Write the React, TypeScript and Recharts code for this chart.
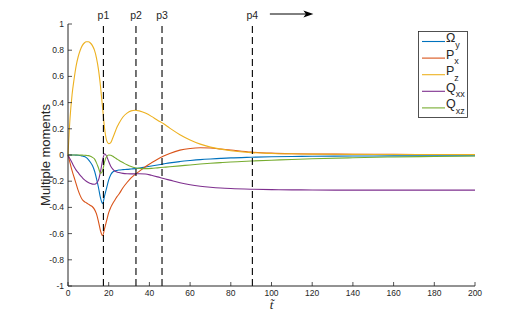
import React from "react";
import {
  LineChart,
  Line,
  XAxis,
  YAxis,
  ReferenceLine,
  Legend,
} from "recharts";

// time samples (denser around the early transients)
const T = [
  0, 1, 2, 3, 4, 5, 6, 7, 8, 9, 10, 11, 12, 13, 14, 15, 16, 17, 18, 19, 20, 21,
  22, 23, 24, 25, 27, 29, 31, 33, 35, 38, 41, 44, 47, 50, 55, 60, 65, 70, 75,
  80, 90, 100, 110, 120, 140, 160, 180, 200,
];

const OMEGA_Y = [
  0, 0, 0, 0, -0.001, -0.002, -0.004, -0.008, -0.012, -0.02, -0.035, -0.055,
  -0.08, -0.12, -0.18, -0.25, -0.33, -0.371, -0.31, -0.25, -0.19, -0.15, -0.13,
  -0.122, -0.118, -0.115, -0.112, -0.11, -0.107, -0.104, -0.1, -0.092, -0.084,
  -0.076, -0.068, -0.06, -0.05, -0.042, -0.035, -0.03, -0.026, -0.022, -0.017,
  -0.013, -0.011, -0.01, -0.008, -0.007, -0.006, -0.006,
];

const P_X = [
  0, -0.06, -0.12, -0.17, -0.22, -0.27, -0.31, -0.34, -0.355, -0.365, -0.375,
  -0.385, -0.395, -0.415, -0.45, -0.51, -0.58, -0.615, -0.56, -0.5, -0.44,
  -0.4, -0.37, -0.345, -0.32, -0.3, -0.25, -0.21, -0.175, -0.148, -0.125,
  -0.09, -0.06, -0.032, -0.008, 0.012, 0.037, 0.05, 0.055, 0.053, 0.046, 0.038,
  0.022, 0.014, 0.01, 0.008, 0.006, 0.005, 0.004, 0.004,
];

const P_Z = [
  0, 0.28, 0.46, 0.58, 0.68, 0.75, 0.8, 0.835, 0.855, 0.865, 0.865, 0.855,
  0.835, 0.8, 0.74, 0.65, 0.52, 0.36, 0.2, 0.11, 0.087, 0.095, 0.13, 0.17,
  0.21, 0.24, 0.29, 0.32, 0.337, 0.342, 0.337, 0.32, 0.295, 0.265, 0.238, 0.205,
  0.155, 0.115, 0.083, 0.06, 0.045, 0.033, 0.018, 0.012, 0.009, 0.007, 0.005,
  0.004, 0.004, 0.004,
];

const Q_XX = [
  0, -0.03, -0.06, -0.09, -0.115, -0.135, -0.155, -0.172, -0.188, -0.2, -0.21,
  -0.217, -0.222, -0.223, -0.215, -0.19, -0.125, -0.04, 0.01, -0.01, -0.05,
  -0.085, -0.108, -0.122, -0.13, -0.134, -0.14, -0.143, -0.144, -0.144, -0.143,
  -0.145, -0.155, -0.167, -0.18, -0.192, -0.212, -0.227, -0.238, -0.246, -0.252,
  -0.256, -0.261, -0.264, -0.266, -0.267, -0.268, -0.268, -0.268, -0.268,
];

const Q_XZ = [
  0, 0, 0, 0, 0, 0, -0.001, -0.001, -0.002, -0.003, -0.005, -0.01, -0.018,
  -0.03, -0.06, -0.1, -0.14, -0.12, -0.05, -0.012, 0, -0.002, -0.01, -0.02,
  -0.03, -0.04, -0.058, -0.075, -0.088, -0.097, -0.102, -0.104, -0.102, -0.098,
  -0.094, -0.09, -0.083, -0.076, -0.069, -0.063, -0.058, -0.053, -0.046, -0.04,
  -0.034, -0.029, -0.021, -0.015, -0.011, -0.008,
];

const X_TICKS = [0, 20, 40, 60, 80, 100, 120, 140, 160, 180, 200];
const Y_TICKS = [-1, -0.8, -0.6, -0.4, -0.2, 0, 0.2, 0.4, 0.6, 0.8, 1];

const MARKERS = [
  { t: 17.4, name: "p1" },
  { t: 33.4, name: "p2" },
  { t: 46.2, name: "p3" },
  { t: 90.6, name: "p4" },
];

const SERIES = [
  { key: "omegaY", main: "Ω", sub: "y", color: "#0072BD" },
  { key: "px", main: "P", sub: "x", color: "#D95319" },
  { key: "pz", main: "P", sub: "z", color: "#EDB120" },
  { key: "qxx", main: "Q", sub: "xx", color: "#7E2F8E" },
  { key: "qxz", main: "Q", sub: "xz", color: "#77AC30" },
];

const rows = T.map((t, i) => ({
  t,
  omegaY: OMEGA_Y[i],
  px: P_X[i],
  pz: P_Z[i],
  qxx: Q_XX[i],
  qxz: Q_XZ[i],
}));

const AX = "#262626";
const FONT = "'Liberation Sans', Arial, Helvetica, sans-serif";

function BottomTick({ x, y, payload }: any) {
  return (
    <g>
      <line x1={x} x2={x} y1={y} y2={y - 4} stroke={AX} strokeWidth={0.8} />
      <text x={x} y={y + 10} textAnchor="middle" fontSize={8.5} fill={AX} fontFamily={FONT}>
        {payload.value}
      </text>
    </g>
  );
}

function TopTick({ x, y }: any) {
  return <line x1={x} x2={x} y1={y} y2={y + 4} stroke={AX} strokeWidth={0.8} />;
}

function LeftTick({ x, y, payload }: any) {
  return (
    <g>
      <line x1={x} x2={x + 4} y1={y} y2={y} stroke={AX} strokeWidth={0.8} />
      <text x={x - 4} y={y + 3} textAnchor="end" fontSize={8.5} fill={AX} fontFamily={FONT}>
        {String(payload.value)}
      </text>
    </g>
  );
}

function RightTick({ x, y }: any) {
  return <line x1={x} x2={x - 4} y1={y} y2={y} stroke={AX} strokeWidth={0.8} />;
}

function MarkerLabel({ viewBox, text, arrow }: any) {
  const x = viewBox.x;
  const y = viewBox.y;
  return (
    <g>
      <text x={x} y={y - 5.5} textAnchor="middle" fontSize={10.5} fill={AX} fontFamily={FONT}>
        {text}
      </text>
      {arrow && (
        <g>
          <line x1={x + 17.5} x2={x + 55} y1={y - 10} y2={y - 10} stroke="#000" strokeWidth={1} />
          <polygon
            points={`${x + 61},${y - 10} ${x + 51},${y - 13.5} ${x + 53.5},${y - 10} ${x + 51},${y - 6.5}`}
            fill="#000"
          />
        </g>
      )}
    </g>
  );
}

function YTitle({ viewBox }: any) {
  const x = viewBox.x + 21.5;
  const y = viewBox.y + viewBox.height / 2;
  return (
    <text
      x={x}
      y={y}
      transform={`rotate(-90 ${x} ${y})`}
      textAnchor="middle"
      fontSize={13}
      fill={AX}
      fontFamily={FONT}
    >
      Multiple moments
    </text>
  );
}

function XTitle({ viewBox }: any) {
  const x = viewBox.x + viewBox.width / 2;
  return (
    <text
      x={x}
      y={viewBox.y + 23}
      textAnchor="middle"
      fontSize={13}
      fontStyle="italic"
      fill={AX}
      fontFamily="'Liberation Serif', 'DejaVu Serif', serif"
    >
      {"t\u0303"}
    </text>
  );
}

function LegendBox() {
  return (
    <svg width={50} height={87} style={{ display: "block" }}>
      <rect x={0.5} y={0.5} width={49} height={86} fill="#fff" stroke={AX} strokeWidth={0.8} />
      {SERIES.map((s, i) => {
        const y = 10.5 + i * 16.6;
        return (
          <g key={s.key}>
            <line x1={4} x2={27} y1={y} y2={y} stroke={s.color} strokeWidth={1.1} />
            <text x={28} y={y + 0.5} fontSize={12.5} fill={AX} fontFamily={FONT}>
              {s.main}
              <tspan dy={5.5} fontSize={9}>
                {s.sub}
              </tspan>
            </text>
          </g>
        );
      })}
    </svg>
  );
}

export default function App() {
  return (
    <div style={{ position: "absolute", left: 0, top: 0, width: 526, height: 321, background: "#fff" }}>
      <LineChart
        width={526}
        height={321}
        data={rows}
        margin={{ top: 24, right: 51, bottom: 15, left: 28 }}
      >
        <XAxis
          dataKey="t"
          type="number"
          domain={[0, 200]}
          ticks={X_TICKS}
          height={20}
          tickSize={0}
          tickMargin={0}
          tickLine={false}
          tick={<BottomTick />}
          axisLine={{ stroke: AX, strokeWidth: 1 }}
          interval={0}
          label={<XTitle />}
        />
        <XAxis
          xAxisId="top"
          orientation="top"
          dataKey="t"
          type="number"
          domain={[0, 200]}
          ticks={X_TICKS}
          height={0}
          tickSize={0}
          tickMargin={0}
          tickLine={false}
          tick={<TopTick />}
          axisLine={{ stroke: AX, strokeWidth: 1 }}
          interval={0}
        />
        <YAxis
          type="number"
          domain={[-1, 1]}
          ticks={Y_TICKS}
          width={40}
          tickSize={0}
          tickMargin={0}
          tickLine={false}
          tick={<LeftTick />}
          axisLine={{ stroke: AX, strokeWidth: 1 }}
          interval={0}
          label={<YTitle />}
        />
        <YAxis
          yAxisId="r"
          orientation="right"
          type="number"
          domain={[-1, 1]}
          ticks={Y_TICKS}
          width={0}
          tickSize={0}
          tickMargin={0}
          tickLine={false}
          tick={<RightTick />}
          axisLine={{ stroke: AX, strokeWidth: 1 }}
          interval={0}
        />
        {SERIES.map((s) => (
          <Line
            key={s.key}
            type="monotone"
            dataKey={s.key}
            stroke={s.color}
            strokeWidth={1.1}
            dot={false}
            isAnimationActive={false}
          />
        ))}
        {MARKERS.map((m, i) => (
          <ReferenceLine
            key={m.name}
            x={m.t}
            stroke="#000"
            strokeWidth={1.1}
            strokeDasharray="7 4"
            label={<MarkerLabel text={m.name} arrow={i === MARKERS.length - 1} />}
          />
        ))}
        <Legend
          layout="horizontal"
          verticalAlign="middle"
          align="center"
          content={() => <LegendBox />}
          wrapperStyle={{ left: 418, top: 31, width: 50, height: 87 }}
        />
      </LineChart>
    </div>
  );
}
